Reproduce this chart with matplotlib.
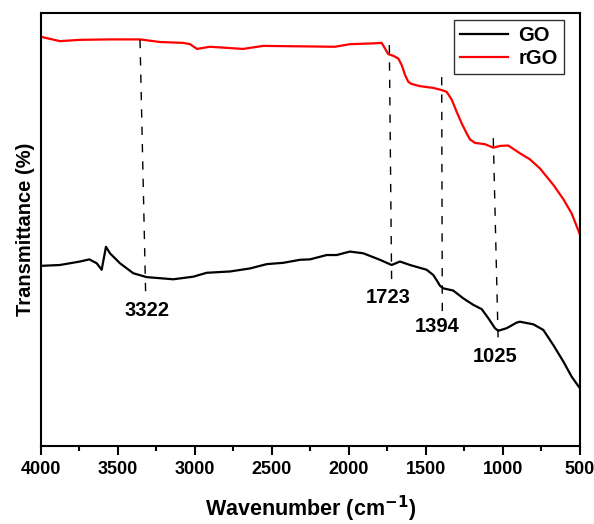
import matplotlib.pyplot as plt
import numpy as np

plt.rcParams["font.family"] = ["Liberation Sans", "DejaVu Sans"]
plt.rcParams["font.weight"] = "bold"

# rGO spectrum (wavenumber, transmittance a.u.)
rgo_wn = [4000, 3877, 3747, 3552, 3357, 3227, 3078, 3032, 2987, 2903, 2688, 2558,
          2318, 2091, 1994, 1831, 1788, 1766, 1745, 1712, 1680, 1658, 1636, 1615,
          1593, 1539, 1453, 1398, 1366, 1333, 1301, 1268, 1236, 1214, 1182, 1117,
          1063, 1019, 966, 890, 825, 760, 673, 608, 554, 500]
rgo_t = [94.5, 93.5, 93.8, 93.9, 93.9, 93.3, 93.1, 92.8, 91.7, 92.2, 91.7, 92.4,
         92.3, 92.2, 92.8, 93.0, 93.1, 91.8, 90.5, 90.1, 89.5, 88.0, 85.7, 84.1,
         83.6, 83.1, 82.7, 82.2, 81.8, 80.0, 77.2, 74.5, 72.2, 70.8, 70.0, 69.7,
         68.9, 69.3, 69.4, 67.6, 66.2, 64.1, 60.3, 57.0, 53.7, 48.8]

# GO spectrum
go_wn = [4000, 3877, 3747, 3686, 3638, 3606, 3578, 3552, 3487, 3401, 3314, 3141,
         3011, 2924, 2773, 2643, 2534, 2427, 2318, 2253, 2145, 2080, 1994, 1907,
         1799, 1723, 1669, 1604, 1496, 1453, 1431, 1409, 1387, 1323, 1258, 1193,
         1138, 1095, 1052, 1031, 976, 911, 890, 803, 738, 673, 608, 554, 500]
go_t = [41.6, 41.8, 42.6, 43.1, 42.2, 40.7, 46.0, 44.5, 42.2, 39.9, 39.0, 38.5,
        39.1, 40.0, 40.3, 41.0, 42.0, 42.3, 43.0, 43.1, 44.1, 44.1, 44.9, 44.5,
        43.0, 41.8, 42.6, 41.8, 40.7, 39.5, 38.3, 37.0, 36.4, 35.9, 34.1, 32.6,
        31.6, 29.5, 27.2, 26.6, 27.2, 28.5, 28.7, 28.1, 26.8, 23.3, 19.5, 16.0,
        13.3]

# peak markers: label, line top/bottom wavenumber and level, label position
peak_labels = ["3322", "1723", "1394", "1025"]
peak_top_wn = [3357, 1738, 1398, 1063]
peak_bot_wn = [3320, 1723, 1394, 1031]
peak_top_t = [93.8, 92.6, 85.2, 71.1]
peak_bot_t = [34.5, 37.6, 30.7, 23.8]
label_wn = [3314, 1747, 1430, 1052]
label_t = [31.4, 34.2, 27.6, 20.6]

fig = plt.figure(figsize=(5.94, 5.24), dpi=100)
ax = fig.add_axes([0.069, 0.1489, 0.9074, 0.8263])

ax.plot(go_wn, go_t, color="black", lw=1.6, label="GO")
ax.plot(rgo_wn, rgo_t, color="red", lw=1.6, label="rGO")

for i, lab in enumerate(peak_labels):
    ax.plot([peak_top_wn[i], peak_bot_wn[i]], [peak_top_t[i], peak_bot_t[i]],
            color="black", lw=1.0, dashes=(6, 6.5))
    ax.text(label_wn[i], label_t[i], lab, ha="center", va="center",
            fontsize=14.5, fontweight="bold")

ax.set_xlim(4000, 500)
ax.set_ylim(0, 100)
ax.set_xticks(np.arange(4000, 499, -500))
ax.set_xticks(np.arange(3750, 500, -500), minor=True)
ax.set_yticks([])
ax.tick_params(axis="x", which="major", direction="out", length=6.5, width=1.5,
               labelsize=13, pad=4)
ax.tick_params(axis="x", which="minor", direction="out", length=3.5, width=1.5)
for tl in ax.get_xticklabels():
    tl.set_fontweight("bold")
for sp in ax.spines.values():
    sp.set_linewidth(1.5)

ax.set_xlabel("Wavenumber (cm$^{\\mathbf{-1}}$)", fontsize=15.5, fontweight="bold", labelpad=12)
ax.set_ylabel("Transmittance (%)", fontsize=14.5, fontweight="bold", labelpad=4)

leg = ax.legend(loc="upper right", bbox_to_anchor=(0.970, 0.984), borderaxespad=0,
                fancybox=False, edgecolor="black", fontsize=14.5, handlelength=2.4,
                handletextpad=0.5, borderpad=0.3, labelspacing=0.2)
leg.get_frame().set_linewidth(1.0)
for t in leg.get_texts():
    t.set_fontweight("bold")

fig.savefig("out.png", dpi=100)
